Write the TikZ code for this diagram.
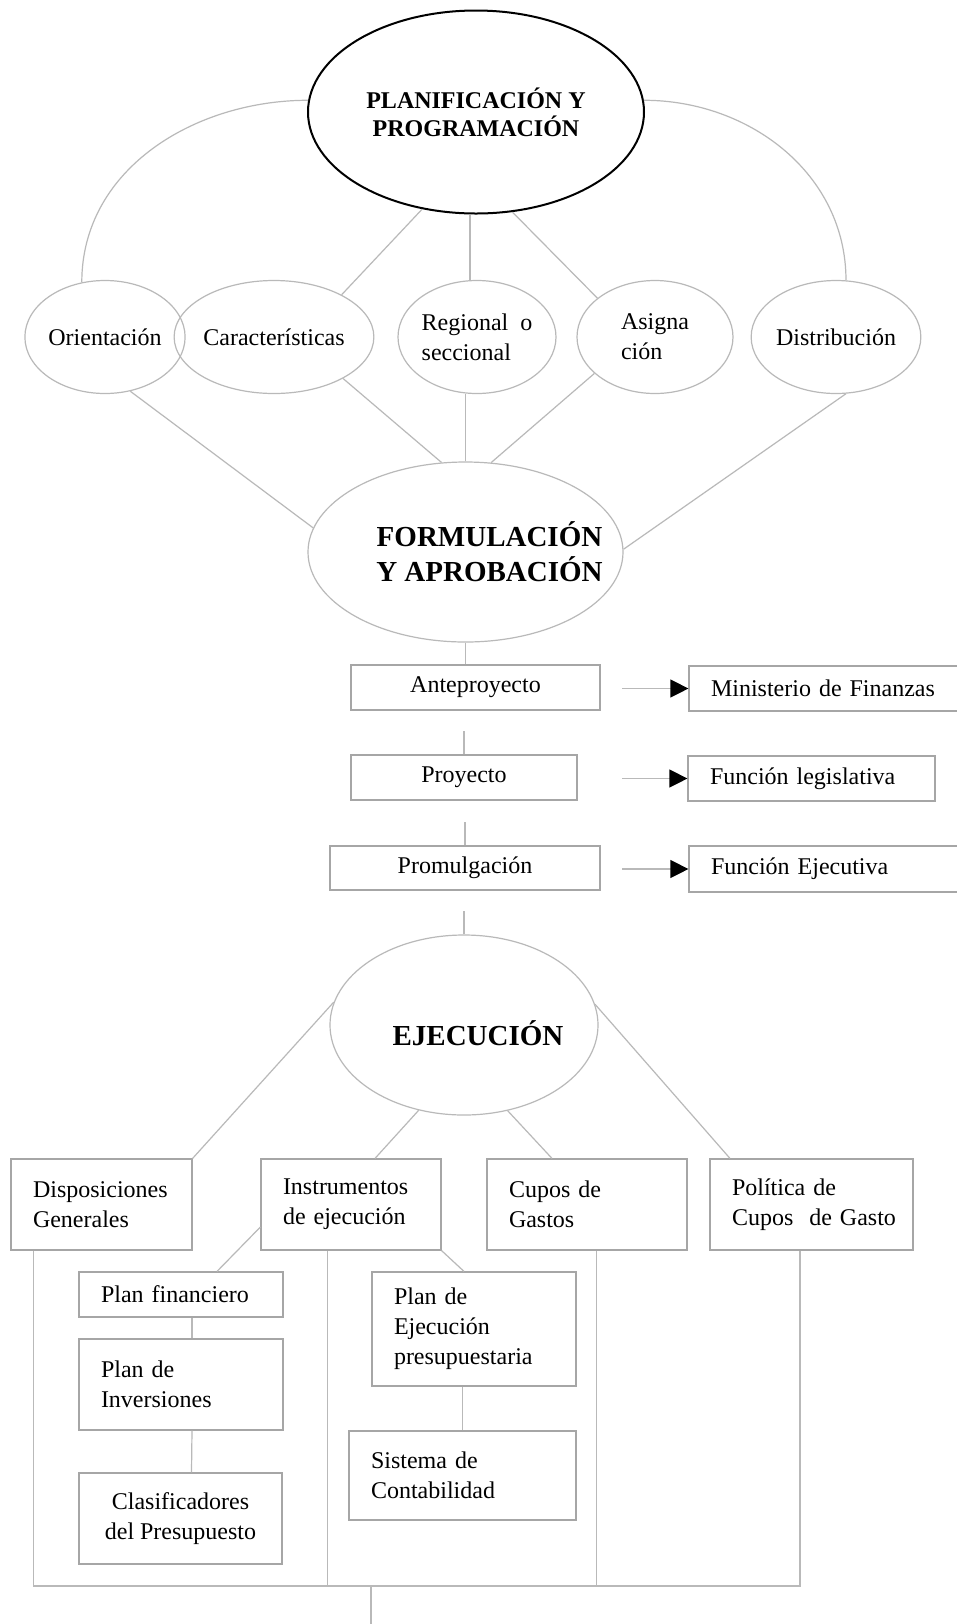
\documentclass[tikz,border=0pt]{standalone}
\usepackage{fontspec}
\setmainfont{Liberation Serif}
\usetikzlibrary{shapes.geometric,arrows.meta}

\tikzset{
    link/.style={draw=gray!55, line width=0.6pt},
    oval/.style={ellipse, draw=gray!55, line width=0.6pt, inner sep=0pt, align=left, font=\fontsize{12}{15}\selectfont},
    bigoval/.style={ellipse, draw=black, line width=1pt, inner sep=0pt, align=center, font=\bfseries\fontsize{12}{14}\selectfont},
    phase/.style={ellipse, draw=gray!55, line width=0.6pt, inner sep=0pt},
    phasetext/.style={align=center, inner sep=0pt, font=\bfseries\fontsize{14.5}{17.5}\selectfont},
    box/.style={rectangle, draw=gray!70, line width=0.6pt, inner sep=0pt, font=\fontsize{12}{15}\selectfont},
    lbox/.style={box, align=left, inner xsep=11pt, text width=#1},
    arr/.style={draw=gray!55, line width=0.6pt, -{Triangle[length=9pt,width=9pt,black]}}
}

\begin{document}
\begin{tikzpicture}[x=0.5pt, y=-0.5pt]
    \useasboundingbox (0,0) rectangle (957,1624);
    \fill[white] (0,0) rectangle (957,1624);

    \node[bigoval, minimum width=168pt, minimum height=101.5pt] (plan) at (476,112) {PLANIFICACIÓN Y\\PROGRAMACIÓN};
    \node[oval, minimum width=67.5pt, minimum height=56.5pt] (ori) at (105,337) {Orientación};
    \node[oval, minimum width=79.5pt, minimum height=56.5pt] (car) at (274,337) {Características};
    \node[oval, minimum width=79pt, minimum height=56.5pt] (reg) at (477,337) {Regional\ \ o\\seccional};
    \node[oval, minimum width=78pt, minimum height=56.5pt] (asi) at (655,337) {Asigna\\ción};
    \node[oval, minimum width=79.5pt, minimum height=56.5pt] (dis) at (836,337) {Distribución};

    \draw[link] (plan.176) to[out=180,in=90] (ori.113);
    \draw[link] (plan.4) to[out=0,in=90] (dis.80);
    \draw[link] (plan.241) -- (car.32);
    \draw[link] (reg.97) -- (reg.97 |- plan.south);
    \draw[link] (plan.290) -- (asi.146);

    \node[phase, minimum width=157.5pt, minimum height=90pt,
        label={[phasetext, xshift=12pt]center:{FORMULACIÓN\\Y APROBACIÓN}}] (form) at (465.5,552) {};
    \draw[link] (ori.295) -- (form.171);
    \draw[link] (car.329) -- (form.105);
    \draw[link] (form.north) -- (form.north |- reg.south);
    \draw[link] (asi.211) -- (form.74);
    \draw[link] (dis.280) -- (form.1);

    \node[box, minimum width=124.5pt, minimum height=22.5pt] (ante) at (475.5,687.5) {Anteproyecto};
    \node[lbox=112.5pt, minimum height=22.5pt] (minis) at (823.5,688.5) {Ministerio de Finanzas};
    \node[box, minimum width=113pt, minimum height=22.5pt] (prov) at (464,777.5) {Proyecto};
    \node[lbox=101.5pt, minimum height=22.5pt] (legis) at (811.5,778.5) {Función legislativa};
    \node[box, minimum width=135pt, minimum height=22pt] (prom) at (465,868) {Promulgación};
    \node[lbox=112.5pt, minimum height=23pt] (fejec) at (823.5,869) {Función Ejecutiva};

    \draw[link] (form.south) -- (form.south |- ante.north);
    \draw[link] (prov.north) -- ++(0,-23);
    \draw[link] (prom.north) -- ++(0,-23);
    \draw[arr] ([xshift=-33pt]minis.west) -- (minis.west);
    \draw[arr] ([xshift=-32.5pt]legis.west) -- (legis.west);
    \draw[arr] ([xshift=-33pt]fejec.west) -- (fejec.west);

    \node[phase, minimum width=134pt, minimum height=90pt,
        label={[phasetext, xshift=7pt, yshift=-4pt]center:EJECUCIÓN}] (ejec) at (464,1025) {};
    \draw[link] (ejec.north) -- ++(0,-23);

    \node[lbox=68.5pt, minimum height=45.5pt] (disp) at (101.5,1204.5) {Disposiciones\\Generales};
    \node[lbox=68pt, minimum height=45.5pt] (inst) at (351,1204.5) {Instrumentos\\de ejecución};
    \node[lbox=78pt, minimum height=45.5pt] (cup) at (587,1204.5) {Cupos de\\Gastos};
    \node[lbox=79.5pt, minimum height=45.5pt] (pol) at (811.5,1204.5) {Política de\\Cupos~~de~Gasto};

    \draw[link] (ejec.170) -- (disp.north east);
    \draw[link] (ejec.242) -- ([xshift=12pt]inst.north);
    \draw[link] (ejec.297) -- ([xshift=-17.5pt]cup.north);
    \draw[link] (ejec.9) -- ([xshift=-40.75pt]pol.north);

    \node[lbox=80pt, minimum height=22.5pt] (pfin) at (181,1294.5) {Plan financiero};
    \node[lbox=80pt, minimum height=45.5pt] (pinv) at (181,1384.5) {Plan de\\Inversiones};
    \node[box, align=center, minimum width=101.5pt, minimum height=45.5pt] (clas) at (180.5,1518.5) {Clasificadores\\del Presupuesto};
    \node[lbox=80pt, minimum height=57pt] (pej) at (474,1329) {Plan de\\Ejecución\\presupuestaria};
    \node[lbox=91.5pt, minimum height=44.5pt] (sis) at (462.5,1475.5) {Sistema de\\Contabilidad};

    \draw[link] ([yshift=-11.25pt]inst.west) -- ([xshift=18pt]pfin.north);
    \draw[link] (inst.south east) -- ([xshift=-5pt]pej.north);
    \draw[link] ([xshift=5.5pt]pfin.south) -- ([xshift=5.5pt]pinv.north);
    \draw[link] ([xshift=5.5pt]pinv.south) -- ([xshift=5.5pt]clas.north);
    \draw[link] (sis.north) -- (sis.north |- pej.south);

    \coordinate (busR) at (800,1586);
    \coordinate (tail) at (371,1624);
    \draw[link] ([xshift=11.5pt]disp.south west) |- (busR) -- (busR |- pol.south);
    \draw[link] ([xshift=33.5pt]inst.south west) -- ++(0,336);
    \draw[link] ([xshift=55pt]cup.south west) -- ++(0,336);
    \draw[link] (tail) -- (tail |- busR);
\end{tikzpicture}
\end{document}
